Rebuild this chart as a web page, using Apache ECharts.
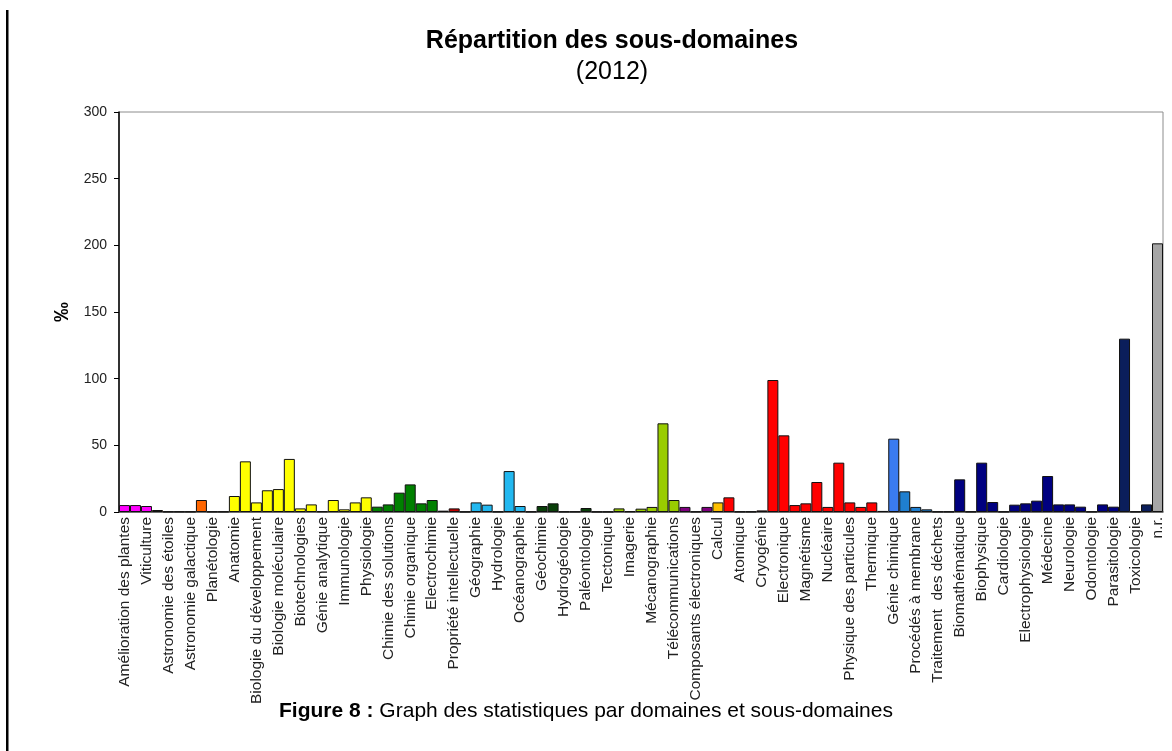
<!DOCTYPE html>
<html>
<head>
<meta charset="utf-8">
<script src="https://cdn.jsdelivr.net/npm/echarts@6/dist/echarts.min.js"></script>
<style>
  html, body { margin: 0; padding: 0; background: #fff; }
  #chart { width: 1172px; height: 751px; }
</style>
</head>
<body>
<div id="chart"></div>
<script>
// libellés visibles (une barre sur deux porte un libellé)
const labels = [
  "Amélioration des plantes", "Viticulture", "Astronomie des étoiles", "Astronomie galactique",
  "Planétologie", "Anatomie", "Biologie du développement", "Biologie moléculaire",
  "Biotechnologies", "Génie analytique", "Immunologie", "Physiologie",
  "Chimie des solutions", "Chimie organique", "Electrochimie", "Propriété intellectuelle",
  "Géographie", "Hydrologie", "Océanographie", "Géochimie",
  "Hydrogéologie", "Paléontologie", "Tectonique", "Imagerie",
  "Mécanographie", "Télécommunications", "Composants électroniques", "Calcul",
  "Atomique", "Cryogénie", "Electronique", "Magnétisme",
  "Nucléaire", "Physique des particules", "Thermique", "Génie chimique",
  "Procédés à membrane", "Traitement  des déchets", "Biomathématique", "Biophysique",
  "Cardiologie", "Electrophysiologie", "Médecine", "Neurologie",
  "Odontologie", "Parasitologie", "Toxicologie", "n.r."
];

// valeurs en ‰, une par sous-domaine (95 barres)
const values = [
  5.2, 5.2, 4.5, 1.5, 0.3, 0.3, 0.3, 9, 0.3, 0.3,
  12, 38, 7.2, 16.3, 17.2, 39.8, 2.7, 5.7, 0.5, 9,
  2, 7.2, 11, 4, 5.7, 14.5, 20.7, 6.5, 9, 1,
  2.7, 0.2, 7.2, 5.5, 0.3, 30.7, 4.5, 0.3, 4.5, 6.5,
  0.3, 0.3, 3, 0.2, 0.2, 2.7, 0.5, 2.5, 3.8, 66.5,
  9, 3.8, 0.3, 3.8, 7.2, 11, 0.3, 0.3, 1.2, 99,
  57.5, 5.2, 6.5, 22.5, 3.8, 37, 7.2, 3.8, 7.2, 0.8,
  55, 15.5, 3.8, 2, 0.3, 0.3, 24.5, 0.3, 37, 7.5,
  0.3, 5.5, 6.5, 8.5, 27, 5.7, 5.7, 4, 0.3, 5.7,
  4, 130, 0.3, 5.7, 201.5
];

// nombre de barres consécutives par domaine
const domainSizes = [3, 7, 13, 7, 2, 6, 6, 7, 3, 1, 14, 2, 5, 15, 3, 1];
const domainColors = [
  "#FF00FF", "#FF6600", "#FFFF00", "#008000", "#C00000", "#22B8F0", "#0A400A", "#99CC00",
  "#7F007F", "#FFC000", "#FF0000", "#3A7BF0", "#1F7FD0", "#000080", "#0B1E5B", "#A6A6A6"
];

const yTicks = [0, 50, 100, 150, 200, 250, 300];

// catégories : libellé sur les barres paires, vide sur les impaires
const categories = values.map((v, i) => (i % 2 === 0 ? labels[i / 2] : ""));
const barDomain = [];
domainSizes.forEach((n, d) => { for (let k = 0; k < n; k++) barDomain.push(d); });

const chart = echarts.init(document.getElementById("chart"));
chart.setOption({
  animation: false,
  textStyle: { fontFamily: "Liberation Sans, Arial, sans-serif" },
  title: {
    text: "Répartition des sous-domaines",
    subtext: "(2012)",
    left: 607,
    textAlign: "center",
    top: 24,
    itemGap: 6,
    textStyle: { fontSize: 25, fontWeight: "bold", color: "#000" },
    subtextStyle: { fontSize: 25, color: "#000" }
  },
  grid: {
    left: 119, right: 9, top: 112, bottom: 239,
    show: true, borderColor: "#8c8c8c", borderWidth: 1
  },
  xAxis: {
    type: "category",
    data: categories,
    axisLine: { lineStyle: { color: "#555", width: 1.5 } },
    axisTick: { show: false },
    axisLabel: { interval: 0, rotate: 90, fontSize: 15.5, color: "#222", margin: 5 }
  },
  yAxis: {
    type: "value",
    min: yTicks[0], max: yTicks[yTicks.length - 1], interval: 50,
    name: "‰",
    nameLocation: "middle",
    nameRotate: 90,
    nameGap: 46,
    nameTextStyle: { fontSize: 20, fontWeight: "bold", color: "#000" },
    axisLine: { show: true, lineStyle: { color: "#000", width: 1.5 } },
    axisTick: { show: true, inside: false, length: 5, lineStyle: { color: "#000" } },
    axisLabel: { fontSize: 14, color: "#222", margin: 12 },
    splitLine: { show: false }
  },
  series: [{
    type: "bar",
    data: values,
    barCategoryGap: "0%",
    itemStyle: {
      borderColor: "#111",
      borderWidth: 1,
      color: (p) => domainColors[barDomain[p.dataIndex]]
    }
  }],
  graphic: [
    { type: "rect", left: 6, top: 10, shape: { width: 2.5, height: 741 }, style: { fill: "#000" } },
    {
      type: "text",
      left: "center",
      top: 701,
      style: {
        text: "{b|Figure 8 :} Graph des statistiques par domaines et sous-domaines",
        fontSize: 21,
        fontFamily: "Liberation Sans, Arial, sans-serif",
        fill: "#000",
        rich: { b: { fontWeight: "bold", fontSize: 21, fill: "#000" } }
      }
    }
  ]
});
</script>
</body>
</html>
